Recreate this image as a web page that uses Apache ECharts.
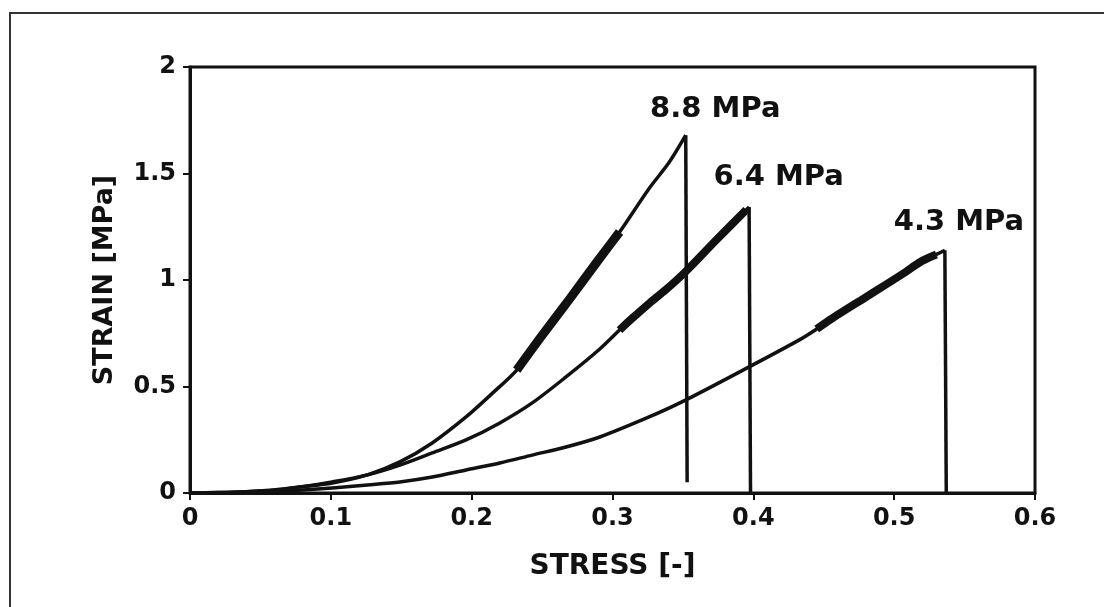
<!DOCTYPE html>
<html>
<head>
<meta charset="utf-8">
<script src="https://cdn.jsdelivr.net/npm/echarts@6/dist/echarts.min.js"></script>
<style>
html,body{margin:0;padding:0;background:#fff;}
#c{width:1104px;height:607px;}
</style>
</head>
<body>
<div id="c"></div>
<script>
// ---- data ----
const xTicks = [0, 0.1, 0.2, 0.3, 0.4, 0.5, 0.6];
const yTicks = [0, 0.5, 1, 1.5, 2];

// each record: loading curve up to the peak, then the vertical drop (last point)
const curve88 = [[0,0],[0.02,0.002],[0.04,0.006],[0.06,0.014],[0.078,0.028],[0.101,0.047],[0.126,0.085],[0.149,0.146],[0.172,0.235],[0.196,0.357],[0.215,0.47],[0.232,0.577],[0.25,0.74],[0.27,0.915],[0.29,1.094],[0.305,1.225],[0.326,1.43],[0.34,1.55],[0.352,1.68],[0.353,0.05]];
const curve64 = [[0,0],[0.02,0.002],[0.04,0.006],[0.06,0.014],[0.08,0.03],[0.101,0.052],[0.126,0.085],[0.149,0.131],[0.172,0.188],[0.196,0.249],[0.22,0.329],[0.243,0.423],[0.267,0.545],[0.291,0.676],[0.305,0.765],[0.314,0.82],[0.326,0.89],[0.338,0.955],[0.352,1.04],[0.374,1.19],[0.395,1.33],[0.397,1.343],[0.398,0]];
const curve43 = [[0,0],[0.02,0.001],[0.04,0.003],[0.06,0.007],[0.08,0.014],[0.101,0.024],[0.126,0.038],[0.149,0.052],[0.172,0.075],[0.196,0.108],[0.22,0.141],[0.243,0.178],[0.267,0.216],[0.291,0.263],[0.326,0.357],[0.35,0.43],[0.397,0.592],[0.433,0.72],[0.445,0.77],[0.456,0.82],[0.48,0.92],[0.504,1.02],[0.52,1.09],[0.53,1.12],[0.536,1.14],[0.537,0]];

// x ranges where each record is drawn as a thick band
const band88 = [0.232, 0.305];
const band64 = [0.305, 0.395];
const band43 = [0.445, 0.53];

const labelNames = ['8.8 MPa', '6.4 MPa', '4.3 MPa'];
const labelX = [0.373, 0.418, 0.546];
const labelY = [1.80, 1.48, 1.27];

// ---- chart ----
const ink = '#111';
const font = 'DejaVu Sans';
function inBand(c, b){ return c.filter(p => p[0] >= b[0] && p[0] <= b[1]); }
function line(data, w, smooth){
  return {type:'line', data:data, symbol:'none', smooth:smooth, silent:true,
          lineStyle:{color:ink, width:w, cap:'butt', join:'round'}, z:3};
}
function rise(c){ return c.slice(0, c.length - 1); }
function drop(c){ return c.slice(c.length - 2); }

const chart = echarts.init(document.getElementById('c'), null, {renderer:'canvas'});
chart.setOption({
  animation:false,
  backgroundColor:'#fff',
  graphic:[{type:'rect', shape:{x:10, y:13, width:1200, height:700},
            style:{fill:'none', stroke:'#333', lineWidth:2}, silent:true}],
  grid:{left:190, right:69, top:67, bottom:114, show:true, borderColor:ink, borderWidth:3},
  xAxis:{type:'value', min:0, max:0.6, interval:0.1,
    name:'STRESS [-]', nameLocation:'middle', nameGap:60,
    nameTextStyle:{fontFamily:font, fontSize:28, fontWeight:'bold', color:ink},
    axisLine:{show:true, onZero:false, lineStyle:{color:ink, width:3}},
    axisTick:{show:true, inside:false, length:7, lineStyle:{color:ink, width:2}},
    splitLine:{show:false},
    axisLabel:{fontFamily:font, fontSize:24, fontWeight:'bold', color:ink, margin:14,
      formatter:v => { const t = xTicks.find(q => Math.abs(q - v) < 1e-9); return t === undefined ? '' : String(t); }}
  },
  yAxis:{type:'value', min:0, max:2, interval:0.5,
    name:'STRAIN [MPa]', nameLocation:'middle', nameGap:72,
    nameTextStyle:{fontFamily:font, fontSize:27, fontWeight:'bold', color:ink},
    axisLine:{show:true, onZero:false, lineStyle:{color:ink, width:3}},
    axisTick:{show:true, inside:false, length:7, lineStyle:{color:ink, width:2}},
    splitLine:{show:false},
    axisLabel:{fontFamily:font, fontSize:24, fontWeight:'bold', color:ink, margin:14,
      formatter:v => { const t = yTicks.find(q => Math.abs(q - v) < 1e-9); return t === undefined ? '' : String(t); }}
  },
  series:[
    line(rise(curve88), 3.5, 0.3), line(rise(curve64), 3.5, 0.3), line(rise(curve43), 3.5, 0.3),
    line(drop(curve88), 3.5, false), line(drop(curve64), 3.5, false), line(drop(curve43), 3.5, false),
    line(inBand(curve88, band88), 9, 0.3), line(inBand(curve64, band64), 8, 0.3), line(inBand(curve43, band43), 8, 0.3),
    {type:'scatter', silent:true, symbolSize:1, itemStyle:{color:'rgba(0,0,0,0)', opacity:1},
     data: labelNames.map((n,i) => ({value:[labelX[i], labelY[i]], name:n})),
     label:{show:true, position:'inside', formatter:p => p.name, opacity:1,
            fontFamily:font, fontSize:29, fontWeight:'bold', color:ink}, z:4}
  ]
});
</script>
</body>
</html>
